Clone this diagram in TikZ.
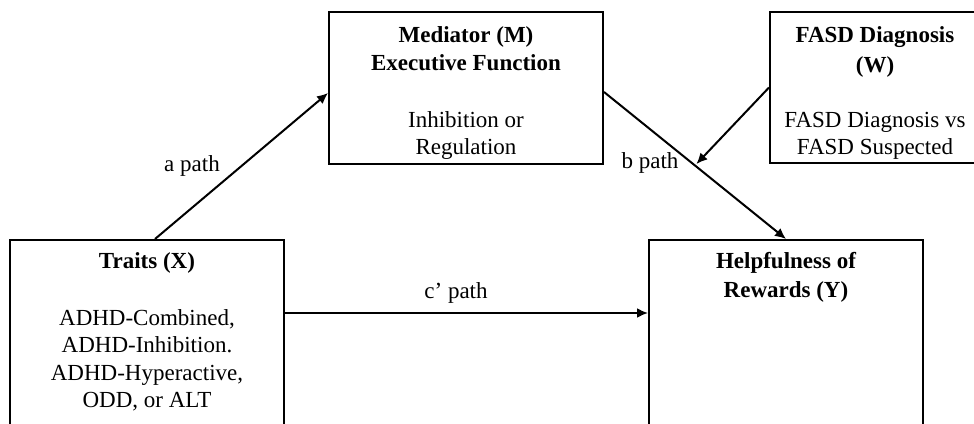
\documentclass[tikz,border=0pt]{standalone}
\usepackage{fontspec}
\setmainfont{Liberation Serif}
\usetikzlibrary{arrows.meta,calc}
\begin{document}
\begin{tikzpicture}[x=1pt,y=-1pt,
  boxnode/.style={draw,line width=2pt,rectangle,inner sep=0pt},
  txt/.style={inner sep=0pt,align=center,font=\fontsize{23}{27.5}\selectfont},
  ttl/.style={txt,font=\fontsize{23}{28}\selectfont\bfseries},
  lbl/.style={inner sep=0pt,anchor=base,font=\fontsize{23}{27}\selectfont},
  arr/.style={line width=2pt,-{Latex[length=11pt,width=10pt]}}]
\useasboundingbox (0,0) rectangle (974,423);
\clip (0,0) rectangle (974,423);
% boxes
\node[boxnode,minimum width=274pt,minimum height=200pt] (X) at (147,340) {};
\node[boxnode,minimum width=274pt,minimum height=152pt] (M) at (466,88) {};
\node[boxnode,minimum width=220pt,minimum height=151pt] (W) at (880,87.5) {};
\node[boxnode,minimum width=274pt,minimum height=200pt] (Y) at (786,340) {};
% texts
\node[ttl,anchor=north] (mt) at (466,26) {Mediator (M)\\Executive Function};
\node[txt,anchor=north] (mb) at (466,111) {Inhibition or\\Regulation};
\node[ttl,anchor=north] (xt) at (147,252) {Traits (X)};
\node[txt,anchor=north] (xb) at (147,309) {ADHD-Combined,\\ADHD-Inhibition.\\ADHD-Hyperactive,\\ODD, or ALT};
\node[ttl,anchor=north,font=\fontsize{23}{30}\selectfont\bfseries] (wt) at (875,26) {FASD Diagnosis\\(W)};
\node[txt,anchor=north] (wb) at (875,112) {FASD Diagnosis vs\\FASD Suspected};
\node[ttl,anchor=north,font=\fontsize{23}{29}\selectfont\bfseries] (yt) at (786,252) {Helpfulness of\\Rewards (Y)};
% connectors
\draw[arr] ([xshift=8pt]X.north) -- ([yshift=-5pt]M.west);
\draw[arr] ([yshift=-4pt]M.east) -- coordinate[pos=0.5] (bm) (Y.north);
\draw[arr,shorten >=2pt] (W.west) -- (bm);
\draw[arr] ([yshift=27pt]X.east) -- ([yshift=27pt]Y.west);
% labels
\node[lbl] (la) at (192,171) {a path};
\node[lbl] (lb) at (650,168) {b path};
\node[lbl] (lc) at (456,298) {c’ path};
\end{tikzpicture}
\end{document}
